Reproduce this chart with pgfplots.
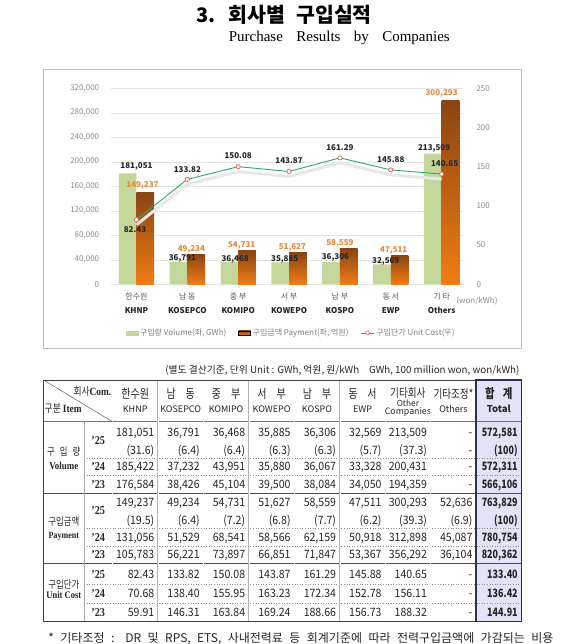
\documentclass[border=0pt]{standalone}
\usepackage{fontspec}
\setmainfont{Noto Sans CJK KR}
\newfontfamily\krn{Noto Sans CJK KR}[FakeStretch=0.8]
\newfontfamily\numf{Noto Sans CJK KR}[FakeStretch=0.92]
\newfontfamily\numb{Noto Sans CJK KR}[FakeStretch=0.78]
\newfontfamily\serif{Liberation Serif}[FakeStretch=0.85]
\newfontfamily\serifn{Liberation Serif}
\usepackage{pgfplots}
\usepackage{pgfplotstable}
\pgfplotsset{compat=1.18}
\pgfkeys{/pgf/number format/assume math mode=true}

\definecolor{barG}{HTML}{C4D79B}
\definecolor{barOT}{HTML}{8A4512}
\definecolor{barOB}{HTML}{F27C14}
\definecolor{labO}{HTML}{E38A3C}
\definecolor{lineG}{HTML}{2FA86A}
\definecolor{markR}{HTML}{E0604A}
\definecolor{tickG}{HTML}{8C8C8C}
\definecolor{legG}{HTML}{7F7F7F}
\definecolor{catK}{HTML}{595959}
\definecolor{lav}{HTML}{E3E3F7}
\definecolor{navy}{HTML}{2E2E5C}
\definecolor{txt}{HTML}{262626}

% volume (GWh), payment (100 million won), unit cost (won/kWh); dx/dy = label offsets
\pgfplotstableread{
x vol dx dy
0 181051 0 7
1 36791 -5 3.5
2 36468 -3 3
3 35885 -4.3 2.5
4 36306 -4.5 5
5 32569 -5 3
6 213509 -7.5 5
}\volume
\pgfplotstableread{
x pay dx dy
0 149237 6 7
1 49234 4 5
2 54731 3.5 5
3 51627 3.3 5
4 58559 0 5
5 47511 3 5
6 300293 0 7
}\payment
\pgfplotstableread{
x cost dx dy
0 82.43 -1.5 -10
1 133.82 0 10
2 150.08 0 11
3 143.87 0 10.5
4 161.29 0 10
5 145.88 0 10
6 140.65 3 10.7
}\unitcost

\tikzset{
  num/.style={anchor=base east, inner sep=0pt, text=txt, font=\numf\fontsize{11.5}{13}\selectfont},
  numb/.style={anchor=base east, inner sep=0pt, text=txt, font=\numb\bfseries\fontsize{11.5}{13}\selectfont},
  hk/.style={inner sep=0pt, text=txt, font=\krn\fontsize{12.5}{14}\selectfont},
  he/.style={inner sep=0pt, text=txt, font=\fontsize{9}{10}\selectfont},
  yr/.style={anchor=base, inner sep=0pt, text=txt, font=\serif\bfseries\fontsize{12}{13}\selectfont},
}
\newcommand\trow[9]{%
  \node[num] at (154.45,#1) {#2};
  \node[num] at (199.9,#1) {#3};
  \node[num] at (245.35,#1) {#4};
  \node[num] at (290.8,#1) {#5};
  \node[num] at (336.25,#1) {#6};
  \node[num] at (381.7,#1) {#7};
  \node[num] at (427.15,#1) {#8};
  \node[num] at (472.6,#1) {#9};}

\begin{document}
\begin{tikzpicture}[x=1pt,y=-1pt]
\useasboundingbox (0,0) rectangle (560,644);
\fill[white] (0,0) rectangle (560,644);

% titles
\node[anchor=west, inner sep=0pt, font=\fontsize{20}{22}\selectfont\bfseries] at (196.4,15) {3.};
\node[anchor=west, inner sep=0pt, font=\fontsize{20.5}{22}\selectfont\bfseries] at (228.6,15) {\makebox[143pt][s]{회사별 구입실적}};
\node[anchor=west, inner sep=0pt, font=\serifn\fontsize{15}{17}\selectfont] at (228.6,38) {\makebox[221pt][s]{Purchase Results by Companies}};

% chart frame
\draw[black!25, line width=0.7pt] (43.6,69.3) rectangle (521.4,348.3);

\begin{axis}[
  at={(110.7pt,-284.3pt)}, anchor=south west,
  width=352.3pt, height=196pt, scale only axis,
  xmin=-0.507, xmax=6.42, ymin=0, ymax=320000,
  axis line style={draw=none}, major tick length=0pt,
  ytick={0,40000,...,320000}, scaled y ticks=false,
  yticklabel={\pgfmathprintnumber[fixed,precision=0,1000 sep={,}]{\tick}},
  yticklabel style={font=\fontsize{8}{9}\selectfont, text=tickG, xshift=-8pt},
  ymajorgrids, major grid style={draw=black!10, line width=0.6pt},
  xtick={0,...,6},
  xticklabels={
    {\textcolor{catK}{한수원}\\\textbf{KHNP}},
    {\textcolor{catK}{남 동}\\\textbf{KOSEPCO}},
    {\textcolor{catK}{중 부}\\\textbf{KOMIPO}},
    {\textcolor{catK}{서 부}\\\textbf{KOWEPO}},
    {\textcolor{catK}{남 부}\\\textbf{KOSPO}},
    {\textcolor{catK}{동 서}\\\textbf{EWP}},
    {\textcolor{catK}{기 타}\\\textbf{Others}}},
  xticklabel style={align=center, font=\fontsize{8}{14}\selectfont, text=txt, yshift=-5pt},
  legend style={at={(0.512,-0.248)}, anchor=center, draw=none, fill=none,
    font=\fontsize{8}{9}\selectfont, text=legG, legend columns=3, inner sep=0pt,
    /tikz/every even column/.append style={column sep=10pt}},
  clip=false,
]
\addplot[ybar, forget plot, bar width=17.7pt, bar shift=-8.85pt, fill=barG, draw=none,
  nodes near coords={\pgfmathprintnumber[fixed,precision=0,1000 sep={,}]{\pgfplotspointmeta}},
  visualization depends on={\thisrow{dx}\as\ldx},
  visualization depends on={\thisrow{dy}\as\ldy},
  every node near coord/.append style={anchor=center, xshift=\ldx, yshift=\ldy,
    font=\fontsize{8}{9}\selectfont\bfseries, text=txt, inner sep=0pt}
] table[x=x,y=vol]{\volume};
% one plot per orange bar so that each bar gets its own gradient
\pgfplotsinvokeforeach{0,...,6}{
\addplot[ybar, forget plot, bar width=17.7pt, bar shift=8.85pt, top color=barOT, bottom color=barOB, draw=none,
  restrict x to domain=#1:#1,
  nodes near coords={\pgfmathprintnumber[fixed,precision=0,1000 sep={,}]{\pgfplotspointmeta}},
  visualization depends on={\thisrow{dx}\as\ldx},
  visualization depends on={\thisrow{dy}\as\ldy},
  every node near coord/.append style={anchor=center, xshift=\ldx, yshift=\ldy,
    font=\fontsize{8}{9}\selectfont\bfseries, text=labO, inner sep=0pt}
] table[x=x,y=pay]{\payment};
}
\addlegendimage{legend image code/.code={\fill[barG] (0pt,-2.2pt) rectangle (12pt,2.2pt);}}
\addlegendentry{구입량 Volume(좌, GWh)}
\addlegendimage{legend image code/.code={\shade[top color=barOT, bottom color=barOB] (0pt,-2.2pt) rectangle (12pt,2.2pt);}}
\addlegendentry{구입금액 Payment(좌, 억원)}
\addlegendimage{legend image code/.code={\draw[lineG, line width=0.8pt] (0pt,0pt) -- (13pt,0pt); \draw[markR, fill=white, line width=0.6pt] (6.5pt,0pt) circle (2pt);}}
\addlegendentry{구입단가 Unit Cost(우)}
\end{axis}

\begin{axis}[
  at={(110.7pt,-284.3pt)}, anchor=south west,
  width=352.3pt, height=196pt, scale only axis,
  xmin=-0.507, xmax=6.42, ymin=0, ymax=250,
  axis line style={draw=none}, major tick length=0pt, xtick=\empty,
  ytick={0,50,...,250}, yticklabel pos=right,
  yticklabel style={font=\fontsize{8}{9}\selectfont, text=tickG, xshift=10pt},
  clip=false,
]
\addplot[forget plot, draw=black!9, line width=3pt, yshift=-5pt] table[x=x,y=cost]{\unitcost};
\addplot[lineG, line width=0.9pt, mark=*, mark size=2.1pt,
  mark options={draw=markR, fill=white, line width=0.7pt},
  nodes near coords={\pgfmathprintnumber[fixed,precision=2,zerofill]{\pgfplotspointmeta}},
  visualization depends on={\thisrow{dx}\as\ldx},
  visualization depends on={\thisrow{dy}\as\ldy},
  every node near coord/.append style={anchor=center, xshift=\ldx, yshift=\ldy,
    font=\fontsize{8}{9}\selectfont\bfseries, text=txt, inner sep=0pt}
] table[x=x,y=cost]{\unitcost};
\end{axis}
\node[font=\fontsize{8}{9}\selectfont, text=tickG, inner sep=0pt] at (477,301) {(won/kWh)};

% ---------- table ----------
\node[anchor=base east, inner sep=0pt, font=\fontsize{9.8}{11}\selectfont, text=txt] at (519.6,373.5)
  {(별도 결산기준, 단위 Unit : GWh, 억원, 원/kWh\quad GWh, 100 million won, won/kWh)};

\fill[lav] (476.1,380) rectangle (521.4,621.7);
\foreach \y in {458,475,528.3,546,584,603}
  \draw[black!45, dotted, line width=0.6pt] (84,\y) -- (521.4,\y);
\draw[black!55, line width=1pt] (43.6,421.7) -- (521.4,421.7);
\foreach \y in {493,563.5}
  \draw[black!70, line width=0.6pt] (43.6,\y) -- (521.4,\y);
\draw[black!35, line width=0.7pt] (84,421.7) -- (84,621.7);
\foreach \x in {112.5,157.95,203.4,248.85,294.3,339.75,385.2,430.65}
  \draw[black!30, line width=0.4pt, double=white, double distance=0.5pt] (\x,380) -- (\x,621.7);
\draw[black!60, line width=0.5pt] (43.6,380) -- (112.5,421.7);
\draw[black!75, line width=0.8pt] (43.6,380) rectangle (521.4,621.7);
\draw[navy, line width=1.4pt] (476.1,380) rectangle (521.4,621.7);

% header
\node[anchor=east, inner sep=0pt, text=txt] at (111.5,391)
  {{\krn\fontsize{11}{12}\selectfont 회사}{\serif\bfseries\fontsize{11}{12}\selectfont Com.}};
\node[anchor=west, inner sep=0pt, text=txt] at (44.5,409)
  {{\krn\fontsize{11}{12}\selectfont 구분 }{\serif\bfseries\fontsize{11}{12}\selectfont Item}};
\node[hk] at (135.2,394) {한수원};        \node[he] at (135.2,409) {KHNP};
\node[hk] at (180.7,394) {남\hspace{10pt}동}; \node[he] at (180.7,409) {KOSEPCO};
\node[hk] at (226.1,394) {중\hspace{10pt}부}; \node[he] at (226.1,409) {KOMIPO};
\node[hk] at (271.6,394) {서\hspace{10pt}부}; \node[he] at (271.6,409) {KOWEPO};
\node[hk] at (317.0,394) {남\hspace{10pt}부}; \node[he] at (317.0,409) {KOSPO};
\node[hk] at (362.5,394) {동\hspace{10pt}서}; \node[he] at (362.5,409) {EWP};
\node[hk, font=\krn\fontsize{12}{13}\selectfont] at (407.9,393.5) {기타회사};
\node[he, font=\fontsize{8.3}{9}\selectfont] at (407.9,403) {Other};
\node[he, font=\fontsize{8.8}{9}\selectfont] at (407.9,412.5) {Companies};
\node[hk, font=\krn\fontsize{12}{13}\selectfont] at (453.4,394) {기타조정*};
\node[he] at (453.4,409) {Others};
\node[hk, font=\krn\bfseries\fontsize{13}{14}\selectfont] at (498.75,394) {합\hspace{8pt}계};
\node[he, font=\bfseries\fontsize{9.5}{10}\selectfont] at (498.75,409) {Total};

% item labels
\node[inner sep=0pt, text=txt, font=\krn\fontsize{10.5}{11}\selectfont] at (63.8,452) {구\hspace{5pt}입\hspace{5pt}량};
\node[inner sep=0pt, text=txt, font=\serif\bfseries\fontsize{10.5}{11}\selectfont] at (63.8,465.5) {Volume};
\node[inner sep=0pt, text=txt, font=\krn\fontsize{10.5}{11}\selectfont] at (63.8,521.5) {구입금액};
\node[inner sep=0pt, text=txt, font=\serif\bfseries\fontsize{9.5}{10}\selectfont] at (63.8,536.5) {Payment};
\node[inner sep=0pt, text=txt, font=\krn\fontsize{10.5}{11}\selectfont] at (63.8,584.5) {구입단가};
\node[inner sep=0pt, text=txt, font=\serif\bfseries\fontsize{10}{10}\selectfont] at (63.8,595) {Unit Cost};

% years
\node[yr] at (98.25,444) {’25}; \node[yr] at (98.25,470.5) {’24}; \node[yr] at (98.25,488) {’23};
\node[yr] at (98.25,514.5) {’25}; \node[yr] at (98.25,541.5) {’24}; \node[yr] at (98.25,558.5) {’23};
\node[yr] at (98.25,578.5) {’25}; \node[yr] at (98.25,597.5) {’24}; \node[yr] at (98.25,616.3) {’23};

% body
\trow{436.4}{181,051}{36,791}{36,468}{35,885}{36,306}{32,569}{213,509}{-}
\trow{454.9}{(31.6)}{(6.4)}{(6.4)}{(6.3)}{(6.3)}{(5.7)}{(37.3)}{-}
\trow{470.9}{185,422}{37,232}{43,951}{35,880}{36,067}{33,328}{200,431}{-}
\trow{488.4}{176,584}{38,426}{45,104}{39,500}{38,084}{34,050}{194,359}{-}
\trow{506.9}{149,237}{49,234}{54,731}{51,627}{58,559}{47,511}{300,293}{52,636}
\trow{524.4}{(19.5)}{(6.4)}{(7.2)}{(6.8)}{(7.7)}{(6.2)}{(39.3)}{(6.9)}
\trow{541.9}{131,056}{51,529}{68,541}{58,566}{62,159}{50,918}{312,898}{45,087}
\trow{558.9}{105,783}{56,221}{73,897}{66,851}{71,847}{53,367}{356,292}{36,104}
\trow{578.9}{82.43}{133.82}{150.08}{143.87}{161.29}{145.88}{140.65}{-}
\trow{597.9}{70.68}{138.40}{155.95}{163.23}{172.34}{152.78}{156.11}{-}
\trow{616.7}{59.91}{146.31}{163.84}{169.24}{188.66}{156.73}{188.32}{-}
\foreach \y/\v in {436.4/{572,581},454.9/(100),470.9/{572,311},488.4/{566,106},506.9/{763,829},524.4/(100),541.9/{780,754},558.9/{820,362},578.9/133.40,597.9/136.42,616.7/144.91}
  \node[numb] at (517.9,\y) {\v};

% footnote
\node[anchor=base west, inner sep=0pt, font=\fontsize{12}{13}\selectfont, text=txt] at (48.2,642)
  {\makebox[505pt][s]{* 기타조정 : DR 및 RPS, ETS, 사내전력료 등 회계기준에 따라 전력구입금액에 가감되는 비용}};
\end{tikzpicture}
\end{document}
